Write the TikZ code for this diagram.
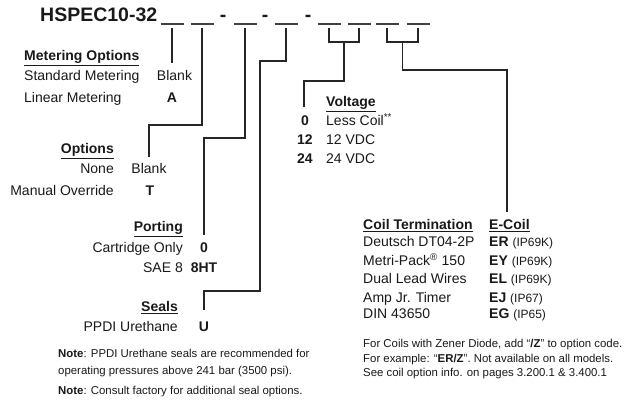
\documentclass[tikz,border=0pt]{standalone}
\usepackage{fontspec}
\setmainfont{Liberation Sans}
\usetikzlibrary{calc}
\newcommand\ipcode[1]{{\fontsize{12}{14}\selectfont(#1)}}

\begin{document}
\begin{tikzpicture}[x=1pt,y=-1pt,
  every node/.style={inner sep=0pt,text=black!90},
  title/.style={font=\fontsize{19.5}{22}\selectfont\bfseries,anchor=base west},
  txt/.style={font=\fontsize{14}{16}\selectfont,anchor=base west},
  rtxt/.style={txt,anchor=base east},
  code/.style={font=\fontsize{14}{16}\selectfont\bfseries,anchor=base},
  hdr/.style={font=\fontsize{14}{16}\selectfont\bfseries,anchor=base west},
  rhdr/.style={hdr,anchor=base east},
  note/.style={font=\fontsize{11.4}{13.5}\selectfont,anchor=base west},
  link/.style={draw=black!85,line width=1.3pt},
  blankln/.style={draw=black!75,line width=1.3pt}
]
  \useasboundingbox (0,0) rectangle (641,401);

  \node[title] (model) at (40,22) {HSPEC10-32};
  \foreach \n/\x in {1/172,2/202,3/245,4/286,5/329,6/359,7/387,8/418}{
    \coordinate (b\n) at (\x,28);
    \draw[blankln] (\x-11.5,24) -- (\x+11.5,24);
  }
  \node[title,anchor=base] (d1) at (223,22) {-};
  \node[title,anchor=base] (d2) at (265,22) {-};
  \node[title,anchor=base] (d3) at (308,22) {-};

  \node[hdr] (mhead) at (24,61) {\underline{Metering Options}};
  \node[txt] (mstd) at (24,81) {Standard Metering};
  \node[code,font=\fontsize{14}{16}\selectfont] (mblank) at (174.5,81) {Blank};
  \node[txt] (mlin) at (24,103) {Linear Metering};
  \node[code] (ma) at (172,103) {A};

  \node[rhdr] (ohead) at (114,154) {\underline{Options}};
  \node[rtxt] (onone) at (114,174) {None};
  \node[code,font=\fontsize{14}{16}\selectfont] (oblank) at (149,174) {Blank};
  \node[rtxt] (oman) at (114,196) {Manual Override};
  \node[code] (ot) at (150,196) {T};

  \node[rhdr] (phead) at (183,232) {\underline{Porting}};
  \node[rtxt] (pcart) at (183,253) {Cartridge Only};
  \node[code] (p0) at (204,253) {0};
  \node[rtxt] (psae) at (183,273) {SAE 8};
  \node[code] (p8) at (204,273) {8HT};

  \node[rhdr] (shead) at (178,312) {\underline{Seals}};
  \node[rtxt] (sppdi) at (178,332) {PPDI Urethane};
  \node[code] (su) at (204,332) {U};

  \node[note] (n1) at (58,357) {\textbf{Note}: PPDI Urethane seals are recommended for};
  \node[note] (n2) at (58,374) {operating pressures above 241 bar (3500 psi).};
  \node[note] (n3) at (58,395) {\textbf{Note}: Consult factory for additional seal options.};

  \node[hdr] (vhead) at (326,107) {\underline{Voltage}};
  \node[code] (v0) at (305,126) {0};
  \node[txt] (vless) at (326,126) {Less Coil\textsuperscript{**}};
  \node[code] (v12) at (305,145) {12};
  \node[txt] (v12t) at (326,145) {12 VDC};
  \node[code] (v24) at (305,164) {24};
  \node[txt] (v24t) at (326,164) {24 VDC};

  \node[hdr] (chead) at (363,230) {\underline{Coil Termination}};
  \node[hdr] (ehead) at (489,230) {\underline{E-Coil}};
  \node[txt] (c1) at (363,247) {Deutsch DT04-2P};
  \node[txt] (c2) at (363,266) {Metri-Pack\textsuperscript{®} 150};
  \node[txt] (c3) at (363,284) {Dual Lead Wires};
  \node[txt] (c4) at (363,302) {Amp Jr. Timer};
  \node[txt] (c5) at (363,319) {DIN 43650};
  \node[txt] (e1) at (489,247) {\textbf{ER} \ipcode{IP69K}};
  \node[txt] (e2) at (489,266) {\textbf{EY} \ipcode{IP69K}};
  \node[txt] (e3) at (489,284) {\textbf{EL} \ipcode{IP69K}};
  \node[txt] (e4) at (489,302) {\textbf{EJ} \ipcode{IP67}};
  \node[txt] (e5) at (489,319) {\textbf{EG} \ipcode{IP65}};

  \node[note] (f1) at (363,348) {For Coils with Zener Diode, add “\textbf{/Z}” to option code.};
  \node[note] (f2) at (363,362.5) {For example: “\textbf{ER/Z}”. Not available on all models.};
  \node[note] (f3) at (363,377) {See coil option info. on pages 3.200.1 \& 3.400.1};

  \coordinate (t1) at (172,63);
  \coordinate (t2) at (149,157);
  \coordinate (t3) at (204,235);
  \coordinate (t4) at (204,310);
  \coordinate (t5) at (304,107);
  \coordinate (t6) at (507,212);

  \draw[link] (b1) -- (t1);
  \draw[link] (b2) -- ++(0,97) -| (t2);
  \draw[link] (b3) -- ++(0,110) -| (t3);
  \draw[link] (b4) -- ++(0,33) -| ++(-26,230) -| (t4);
  \draw[link] (b5) -- ++(0,14) -| (b6);
  \draw[link] ($(b5)!0.5!(b6)$) ++(0,14) -- ++(0,39) -| (t5);
  \draw[link] (b7) -- ++(0,14) -| (b8);
  \draw[link] ($(b7)!0.5!(b8)$) ++(0,14) -- ++(0,28) -| (t6);
\end{tikzpicture}
\end{document}
